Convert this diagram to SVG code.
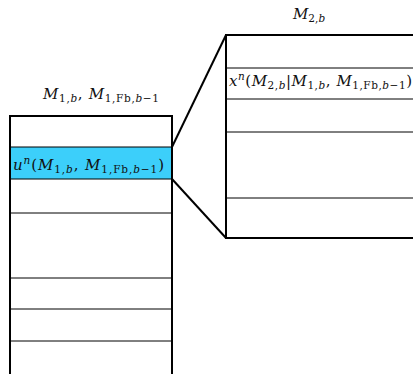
<svg xmlns="http://www.w3.org/2000/svg" width="413" height="374" viewBox="0 0 413 374">
<style>
.t{font-family:"DejaVu Serif","Liberation Serif",serif;font-size:15px;fill:#111}
.i{font-style:italic}
.s{font-size:10.5px}
.box{fill:none;stroke:#000;stroke-width:2}
.thin{stroke:#000;stroke-width:1}
.conn{stroke:#000;stroke-width:2;fill:none}
</style>
<rect width="413" height="374" fill="#fff"/>
<g id="left-buffer">
<rect x="10" y="147" width="162" height="32" fill="#3ccffa"/>
<line class="thin" x1="10" y1="147" x2="172" y2="147"/>
<line class="thin" x1="10" y1="179" x2="172" y2="179"/>
<line class="thin" x1="10" y1="213" x2="172" y2="213"/>
<line class="thin" x1="10" y1="278" x2="172" y2="278"/>
<line class="thin" x1="10" y1="309" x2="172" y2="309"/>
<line class="thin" x1="10" y1="341" x2="172" y2="341"/>
<path class="box" d="M10,380 V116 H172 V380"/>
<text class="t" x="43" y="99" textLength="116" lengthAdjust="spacing"><tspan class="i">M</tspan><tspan class="s" dy="3">1,<tspan class="i">b</tspan></tspan><tspan dy="-3">, </tspan><tspan class="i">M</tspan><tspan class="s" dy="3">1,Fb,<tspan class="i">b</tspan>−1</tspan></text>
<text class="t" x="13" y="170" textLength="151" lengthAdjust="spacing"><tspan class="i">u</tspan><tspan class="s i" dy="-6">n</tspan><tspan dy="6">(</tspan><tspan class="i">M</tspan><tspan class="s" dy="3">1,<tspan class="i">b</tspan></tspan><tspan dy="-3">, </tspan><tspan class="i">M</tspan><tspan class="s" dy="3">1,Fb,<tspan class="i">b</tspan>−1</tspan><tspan dy="-3">)</tspan></text>
</g>
<g id="right-buffer">
<line class="thin" x1="226" y1="68" x2="420" y2="68"/>
<line class="thin" x1="226" y1="99" x2="420" y2="99"/>
<line class="thin" x1="226" y1="132" x2="420" y2="132"/>
<line class="thin" x1="226" y1="198" x2="420" y2="198"/>
<path class="box" d="M420,35 H226 V238 H420"/>
<text class="t" x="293" y="19"><tspan class="i">M</tspan><tspan class="s" dy="3">2,<tspan class="i">b</tspan></tspan></text>
<text class="t" x="229" y="86" textLength="183" lengthAdjust="spacing"><tspan class="i">x</tspan><tspan class="s i" dy="-6">n</tspan><tspan dy="6">(</tspan><tspan class="i">M</tspan><tspan class="s" dy="3">2,<tspan class="i">b</tspan></tspan><tspan dy="-3">|</tspan><tspan class="i">M</tspan><tspan class="s" dy="3">1,<tspan class="i">b</tspan></tspan><tspan dy="-3">, </tspan><tspan class="i">M</tspan><tspan class="s" dy="3">1,Fb,<tspan class="i">b</tspan>−1</tspan><tspan dy="-3">)</tspan></text>
</g>
<g id="connectors">
<line class="conn" x1="172" y1="147" x2="226" y2="35"/>
<line class="conn" x1="172" y1="179" x2="226" y2="238"/>
</g>
</svg>
